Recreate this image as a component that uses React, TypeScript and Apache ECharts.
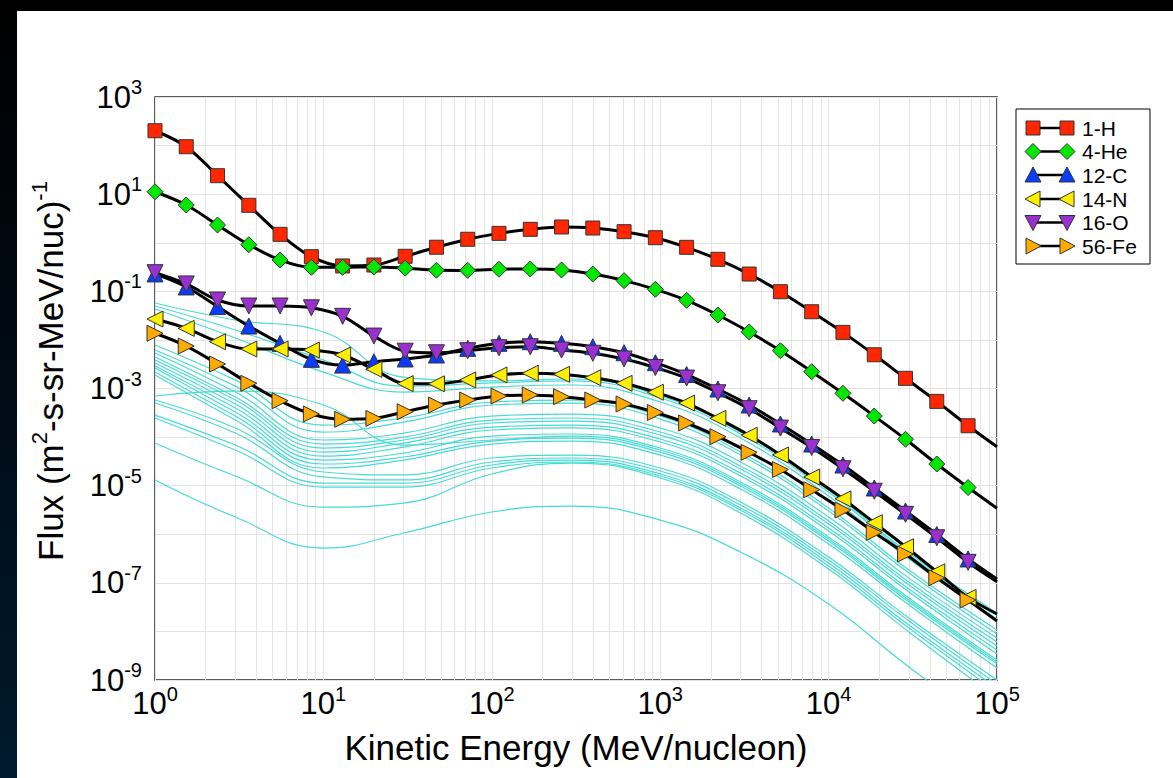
import React, { useEffect, useRef } from "react";
import * as echarts from "echarts";

// ---- data (MeV/nucleon, flux) ----
const energies = [1, 1.533, 2.351, 3.607, 5.531, 8.483, 13.01, 19.95, 30.59, 46.92, 71.94, 110.3, 169.2, 259.5, 398.0, 610.2, 935.9, 1435, 2201, 3375, 5176, 7937, 12170, 18670, 28630, 43900, 67330];
const edgeEnergy = 100000;

const fluxH = [202, 94.8, 24.0, 5.9, 1.49, 0.516, 0.333, 0.348, 0.526, 0.809, 1.18, 1.56, 1.89, 2.11, 2.01, 1.69, 1.27, 0.805, 0.456, 0.227, 0.0982, 0.038, 0.0143, 0.00495, 0.00162, 0.000543, 0.000171];
const fluxHEdge = 6.3e-5;
const fluxHe = [11.2, 5.98, 2.32, 0.912, 0.442, 0.312, 0.312, 0.318, 0.3, 0.272, 0.27, 0.285, 0.288, 0.275, 0.227, 0.166, 0.11, 0.0653, 0.0326, 0.0146, 0.006, 0.00222, 0.000796, 0.000271, 9.0e-5, 2.79e-5, 9.16e-6];
const fluxHeEdge = 3.42e-6;
const fluxC = [0.228, 0.123, 0.0486, 0.0193, 0.00849, 0.00398, 0.00303, 0.00356, 0.00405, 0.00489, 0.00671, 0.00851, 0.00918, 0.00851, 0.00724, 0.00545, 0.0034, 0.00194, 0.000977, 0.000457, 0.000186, 7.19e-5, 2.66e-5, 8.95e-6, 3.01e-6, 9.89e-7, 3.1e-7];
const fluxCEdge = 1.2e-7;
const fluxN = [0.0269, 0.0173, 0.00918, 0.0065, 0.0065, 0.00619, 0.00489, 0.00248, 0.00126, 0.00125, 0.0015, 0.0019, 0.00206, 0.00196, 0.00167, 0.00128, 0.000838, 0.000502, 0.000243, 0.000109, 4.28e-5, 1.51e-5, 5.36e-6, 1.73e-6, 5.53e-7, 1.69e-7, 5.02e-8];
const fluxNEdge = 2.28e-8;
const fluxO = [0.242, 0.142, 0.0662, 0.0499, 0.0499, 0.0458, 0.0306, 0.012, 0.00585, 0.00544, 0.006, 0.0069, 0.00724, 0.00619, 0.0053, 0.00405, 0.0027, 0.00164, 0.000818, 0.000384, 0.000153, 6.1e-5, 2.23e-5, 7.67e-6, 2.57e-6, 8.47e-7, 2.64e-7];
const fluxOEdge = 1.05e-7;
const fluxFe = [0.0137, 0.00748, 0.00319, 0.00128, 0.00056, 0.000299, 0.000232, 0.000243, 0.000333, 0.000457, 0.000579, 0.0007, 0.000735, 0.000678, 0.000579, 0.00048, 0.000321, 0.000195, 0.000102, 4.85e-5, 2.15e-5, 8.24e-6, 3.15e-6, 1.09e-6, 3.92e-7, 1.27e-7, 4.43e-8];
const fluxFeEdge = 1.64e-8;

// other elements (thin cyan curves)
const otherEnergies = [1, 3, 10, 30, 100, 300, 1000, 3000, 10000, 30000, 100000];
const other01 = [0.0575, 0.0257, 0.01454, 0.00172, 0.00143, 0.00157, 7.0e-4, 1.27e-4, 8.13e-6, 4.1e-7, 2.39e-8];
const other02 = [0.0498, 0.016, 0.00386, 0.00112, 0.0013, 0.00143, 6.37e-4, 1.156e-4, 7.39e-6, 3.73e-7, 2.17e-8];
const other03 = [0.0433, 0.01094, 0.00218, 8.46e-4, 0.00107, 0.00118, 5.27e-4, 9.56e-5, 6.12e-6, 3.09e-7, 1.8e-8];
const other04 = [0.00785, 0.00149, 1.77e-4, 2.47e-4, 5.27e-4, 5.79e-4, 2.71e-4, 4.92e-5, 3.46e-6, 1.83e-7, 1.07e-8];
const other05 = [0.00619, 0.00112, 1.27e-4, 2.04e-4, 4.57e-4, 5.02e-4, 2.35e-4, 4.27e-5, 3.0e-6, 1.59e-7, 8.83e-9];
const other06 = [0.00537, 8.46e-4, 8.7e-5, 1.21e-4, 2.71e-4, 2.98e-4, 1.54e-4, 3.07e-5, 2.26e-6, 1.25e-7, 7.3e-9];
const other07 = [0.00444, 6.68e-4, 7.19e-5, 1.0e-4, 2.24e-4, 2.47e-4, 1.27e-4, 2.54e-5, 1.87e-6, 1.04e-7, 6.04e-9];
const other08 = [0.00386, 5.79e-4, 5.95e-5, 8.7e-5, 1.95e-4, 2.14e-4, 1.1e-4, 2.2e-5, 1.62e-6, 9.01e-8, 5.0e-9];
const other09 = [0.00335, 4.79e-4, 4.92e-5, 7.54e-5, 1.61e-4, 1.77e-4, 9.12e-5, 1.82e-5, 1.34e-6, 7.45e-8, 4.13e-9];
const other10 = [0.0029, 3.96e-4, 4.07e-5, 6.24e-5, 1.4e-4, 1.54e-4, 7.91e-5, 1.58e-5, 1.16e-6, 6.46e-8, 3.42e-9];
const other11 = [0.00264, 3.28e-4, 3.37e-5, 4.69e-5, 1.05e-4, 1.156e-4, 5.95e-5, 1.19e-5, 8.76e-7, 4.86e-8, 2.57e-9];
const other12 = [0.00218, 2.71e-4, 2.79e-5, 3.89e-5, 8.29e-5, 9.56e-5, 4.92e-5, 9.83e-6, 7.25e-7, 4.02e-8, 2.13e-9];
const other13 = [0.00189, 2.24e-4, 2.31e-5, 3.37e-5, 7.19e-5, 8.29e-5, 4.27e-5, 8.53e-6, 6.29e-7, 3.49e-8, 1.76e-9];
const other14 = [7.0e-4, 8.87e-4, 4.57e-4, 6.86e-5, 8.7e-5, 1.05e-4, 5.41e-5, 1.08e-5, 7.96e-7, 4.42e-8, 2.34e-9];
const other15 = [5.79e-4, 1.54e-4, 1.91e-5, 1.66e-5, 3.71e-5, 4.27e-5, 2.31e-5, 4.6e-6, 3.4e-7, 1.88e-8, 1.0e-9];
const other16 = [5.02e-4, 1.21e-4, 1.51e-5, 1.31e-5, 3.07e-5, 3.71e-5, 2.0e-5, 3.99e-6, 2.94e-7, 1.64e-8, 8.25e-10];
const other17 = [2.84e-4, 6.86e-5, 1.13e-5, 1.13e-5, 2.66e-5, 3.37e-5, 1.74e-5, 3.46e-6, 2.55e-7, 1.35e-8, 6.83e-10];
const other18 = [2.47e-4, 5.41e-5, 9.37e-6, 9.37e-6, 2.31e-5, 3.07e-5, 1.58e-5, 3.15e-6, 2.22e-7, 1.17e-8, 5.65e-10];
const other19 = [7.54e-5, 1.58e-5, 3.63e-6, 4.39e-6, 1.74e-5, 2.92e-5, 1.44e-5, 2.73e-6, 1.92e-7, 9.7e-9, 4.25e-10];
const other20 = [1.31e-5, 2.26e-6, 5.2e-7, 1.06e-6, 2.87e-6, 3.81e-6, 1.96e-6, 4.3e-7, 3.66e-8, 1.85e-9, 9.33e-11];
const otherCurves = [other01, other02, other03, other04, other05, other06, other07, other08, other09, other10, other11, other12, other13, other14, other15, other16, other17, other18, other19, other20];

// axis ticks
const xMinorTicks = [2, 3, 4, 5, 6, 7, 8, 9, 20, 30, 40, 50, 60, 70, 80, 90, 200, 300, 400, 500, 600, 700, 800, 900, 2000, 3000, 4000, 5000, 6000, 7000, 8000, 9000, 20000, 30000, 40000, 50000, 60000, 70000, 80000, 90000];
const yDecades = [1e-9, 1e-8, 1e-7, 1e-6, 1e-5, 1e-4, 1e-3, 1e-2, 1e-1, 1, 10, 100, 1000];
const yLabelExponents = [-9, -7, -5, -3, -1, 1, 3];

// ---- styling ----
const FF = '"Liberation Sans", Arial, Helvetica, sans-serif';
const species = [
  { name: "1-H", values: fluxH, edge: fluxHEdge, symbol: "rect", rotate: 0, size: 14, color: "#ff2600", legend: "square" },
  { name: "4-He", values: fluxHe, edge: fluxHeEdge, symbol: "diamond", rotate: 0, size: 16, color: "#00e800", legend: "diamond" },
  { name: "12-C", values: fluxC, edge: fluxCEdge, symbol: "triangle", rotate: 0, size: 16, color: "#0a3cff", legend: "up" },
  { name: "14-N", values: fluxN, edge: fluxNEdge, symbol: "triangle", rotate: 90, size: 16, color: "#ffee00", legend: "left" },
  { name: "16-O", values: fluxO, edge: fluxOEdge, symbol: "triangle", rotate: 180, size: 16, color: "#9b30d0", legend: "down" },
  { name: "56-Fe", values: fluxFe, edge: fluxFeEdge, symbol: "triangle", rotate: -90, size: 16, color: "#ffaa00", legend: "right" },
];

const tickRich = {
  b: { fontSize: 31, lineHeight: 31, verticalAlign: "bottom", fontFamily: FF, color: "#000" },
  s: { fontSize: 20, lineHeight: 20, padding: [0, 0, 20, 0], fontFamily: FF, color: "#000" },
};

function legendMarker(kind: string, cx: number, cy: number, color: string) {
  const style = { fill: color, stroke: "#333", lineWidth: 1 };
  const r = 8;
  let points: number[][] = [];
  if (kind === "square") {
    return { type: "rect", shape: { x: cx - 7, y: cy - 7, width: 14, height: 14 }, style };
  }
  if (kind === "diamond") points = [[cx, cy - r], [cx + r, cy], [cx, cy + r], [cx - r, cy]];
  if (kind === "up") points = [[cx, cy - r], [cx + r, cy + r - 1], [cx - r, cy + r - 1]];
  if (kind === "down") points = [[cx - r, cy - r + 1], [cx + r, cy - r + 1], [cx, cy + r]];
  if (kind === "left") points = [[cx - r, cy], [cx + r - 1, cy - r], [cx + r - 1, cy + r]];
  if (kind === "right") points = [[cx + r, cy], [cx - r + 1, cy - r], [cx - r + 1, cy + r]];
  return { type: "polygon", shape: { points }, style };
}

function buildOption() {
  const gridSeries: any = {
    type: "line",
    data: [],
    silent: true,
    markLine: {
      silent: true,
      z: 1,
      precision: 12,
      symbol: ["none", "none"],
      animation: false,
      lineStyle: { color: "#e4e4e4", width: 1, type: "solid" },
      label: { show: false },
      emphasis: { disabled: true },
      data: [
        ...xMinorTicks.map((v) => ({ xAxis: v })),
        ...yDecades.map((v) => {
          const e = Math.round(Math.log10(v));
          const show = yLabelExponents.indexOf(e) >= 0;
          return {
            yAxis: v,
            label: show
              ? { show: true, position: "start", distance: 13, formatter: () => `{b|10}{s|${e}}`, rich: tickRich }
              : { show: false },
          };
        }),
      ],
    },
  };

  const otherSeries = otherCurves.map((vals) => ({
    type: "line",
    smooth: 0.45,
    symbol: "none",
    silent: true,
    z: 3,
    lineStyle: { color: "#48dbd3", width: 1.2 },
    data: vals.map((v, i) => [otherEnergies[i], v]),
  }));

  const mainSeries = species.map((sp) => ({
    type: "line",
    name: sp.name,
    smooth: 0.35,
    showAllSymbol: true,
    symbol: sp.symbol,
    symbolSize: sp.size,
    symbolRotate: sp.rotate,
    silent: true,
    z: 4,
    lineStyle: { color: "#000", width: 3 },
    itemStyle: { color: sp.color, borderColor: "#333", borderWidth: 1 },
    data: [
      ...sp.values.map((v, i) => [energies[i], v]),
      { value: [edgeEnergy, sp.edge], symbol: "none" },
    ],
  }));

  const legendRows = [128, 151.5, 175, 199, 222.5, 246];
  const legendChildren: any[] = [
    { type: "rect", shape: { x: 1016, y: 109, width: 134, height: 155 }, style: { fill: "#fff", stroke: "#000", lineWidth: 1 } },
  ];
  species.forEach((sp, i) => {
    const cy = legendRows[i];
    legendChildren.push({ type: "line", shape: { x1: 1033, y1: cy, x2: 1067, y2: cy }, style: { stroke: "#000", lineWidth: 2.5 } });
    legendChildren.push(legendMarker(sp.legend, 1033, cy, sp.color));
    legendChildren.push(legendMarker(sp.legend, 1067, cy, sp.color));
    legendChildren.push({ type: "text", x: 1082, y: cy, style: { text: sp.name, fontSize: 21, fontFamily: FF, fill: "#000", verticalAlign: "middle", align: "left" } });
  });

  return {
    animation: false,
    backgroundColor: "#ffffff",
    textStyle: { fontFamily: FF },
    grid: { left: 155, top: 97, width: 842, height: 583, show: true, borderColor: "#262626", borderWidth: 1.5, backgroundColor: "#fff", containLabel: false },
    xAxis: {
      type: "log",
      logBase: 10,
      min: 1,
      max: 100000,
      axisLine: { show: false },
      axisTick: { show: false },
      splitLine: { show: true, lineStyle: { color: "#e4e4e4", width: 1 } },
      axisLabel: {
        margin: 8,
        formatter: (v: number) => `{b|10}{s|${Math.round(Math.log10(v))}}`,
        rich: tickRich,
      },
    },
    yAxis: {
      type: "log",
      logBase: 10,
      min: 1e-9,
      max: 1000,
      axisLine: { show: false },
      axisTick: { show: false },
      axisLabel: { show: false },
      splitLine: { show: false },
    },
    series: [gridSeries, ...otherSeries, ...mainSeries],
    graphic: [
      { type: "rect", z: 10, shape: { x: 0, y: 0, width: 1173, height: 11 }, style: { fill: "#000" } },
      {
        type: "rect",
        z: 10,
        shape: { x: 0, y: 0, width: 17, height: 778 },
        style: {
          fill: new echarts.graphic.LinearGradient(0, 0, 0, 1, [
            { offset: 0, color: "#000000" },
            { offset: 0.45, color: "#000a14" },
            { offset: 1, color: "#001a2d" },
          ]),
        },
      },
      {
        type: "text",
        x: 576,
        y: 747,
        style: { text: "Kinetic Energy (MeV/nucleon)", fontSize: 35, fontFamily: FF, fill: "#000", align: "center", verticalAlign: "middle" },
      },
      {
        type: "text",
        x: 50,
        y: 371,
        rotation: Math.PI / 2,
        style: {
          text: "{b|Flux (m}{s|2}{b|-s-sr-MeV/nuc)}{s|-1}",
          align: "center",
          verticalAlign: "middle",
          rich: {
            b: { fontSize: 35, lineHeight: 35, verticalAlign: "bottom", fontFamily: FF, fill: "#000", color: "#000" },
            s: { fontSize: 22, lineHeight: 22, padding: [0, 0, 22, 0], fontFamily: FF, fill: "#000", color: "#000" },
          },
        },
      },
      { type: "group", z: 20, children: legendChildren },
    ],
  };
}

export default function App() {
  const ref = useRef<HTMLDivElement>(null);
  useEffect(() => {
    document.body.style.margin = "0";
    const chart = echarts.init(ref.current!, undefined, { renderer: "svg" });
    chart.setOption(buildOption() as any);
    return () => chart.dispose();
  }, []);
  return <div ref={ref} style={{ position: "absolute", left: 0, top: 0, width: 1173, height: 778, background: "#fff" }} />;
}
